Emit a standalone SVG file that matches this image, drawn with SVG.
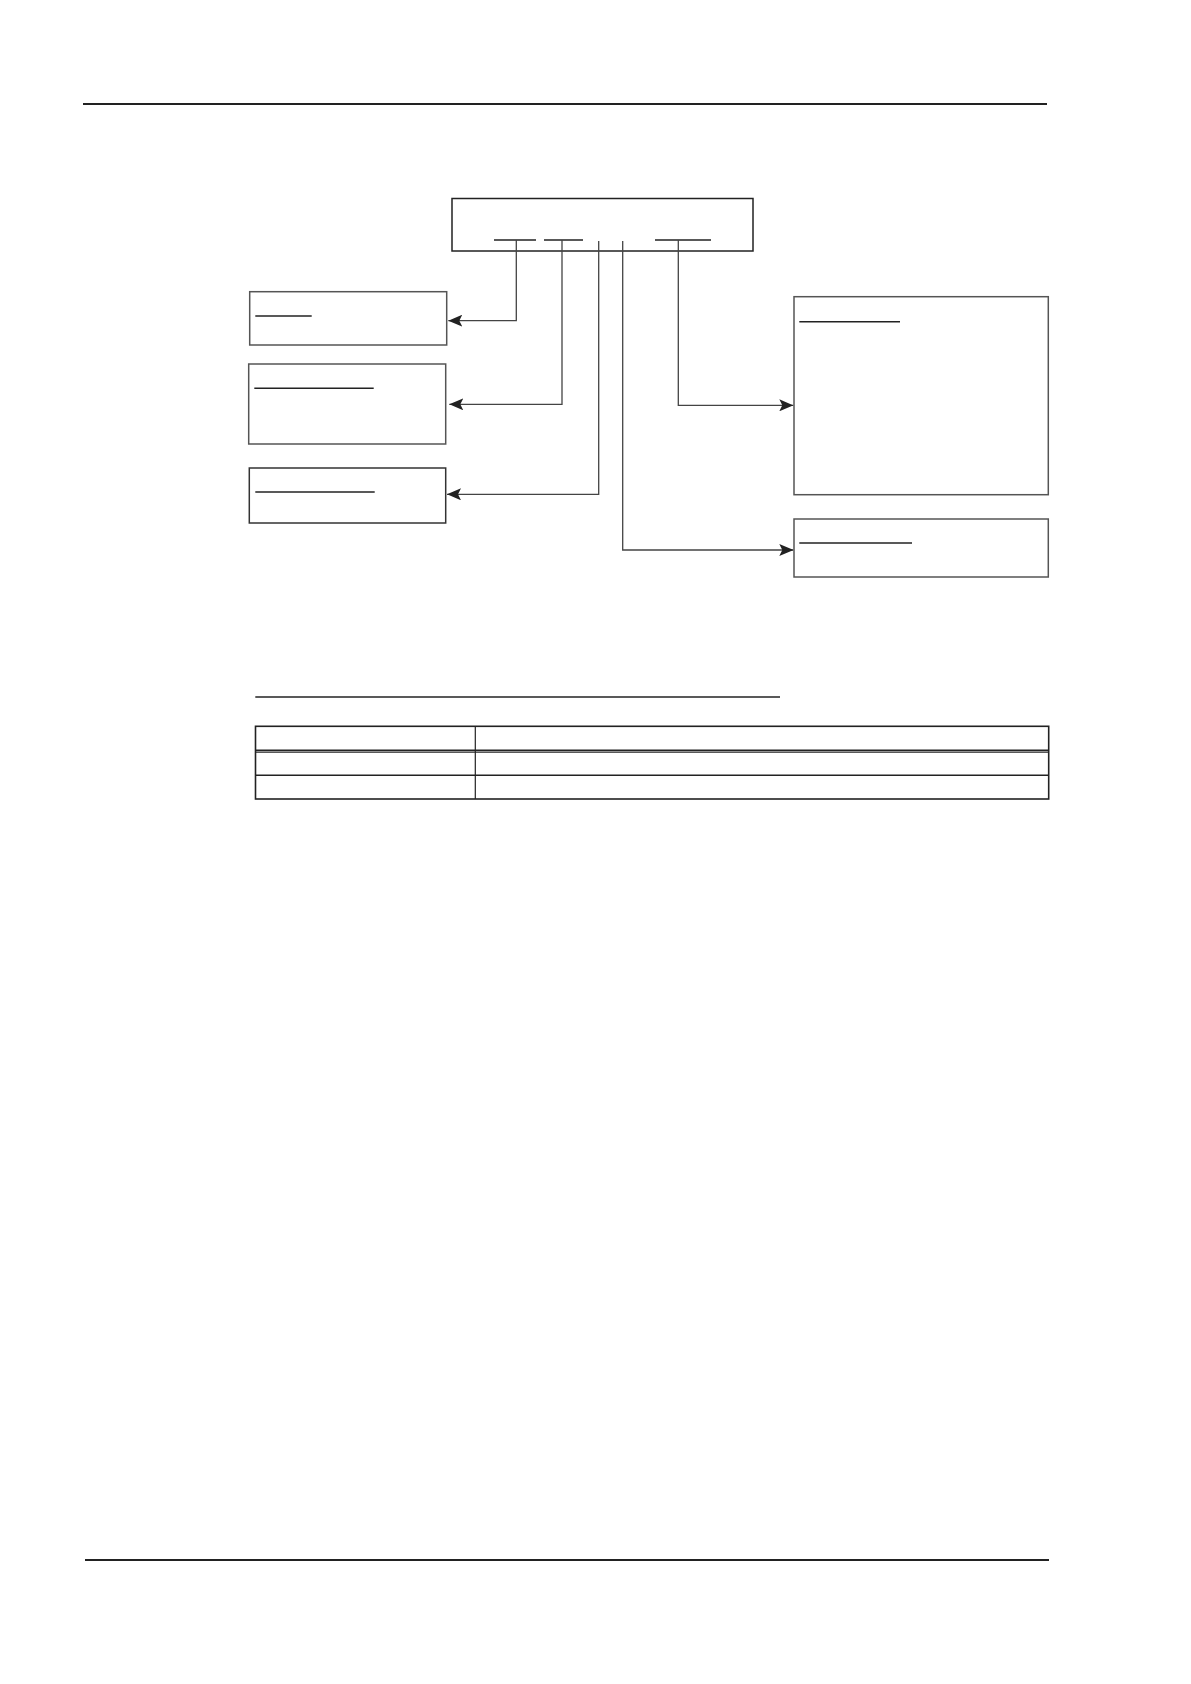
<svg xmlns="http://www.w3.org/2000/svg" width="1191" height="1684" viewBox="0 0 1191 1684">
<style>
.rule{stroke:#222;stroke-width:2.2;fill:none}
.box{fill:#fff;stroke:#555;stroke-width:1.5}
.ul{stroke:#222;stroke-width:1.4;fill:none}
.conn{stroke:#444;stroke-width:1.3;fill:none}
.tbl{stroke:#222;stroke-width:1.6;fill:none}
</style>
<defs>
<marker id="arr" viewBox="0 0 14 12" refX="14" refY="6" markerWidth="14" markerHeight="12" markerUnits="userSpaceOnUse" orient="auto">
<path d="M0,0 L14,6 L0,12 L3,6 Z" fill="#222"/>
</marker>
</defs>
<rect width="1191" height="1684" fill="#fff"/>
<line class="rule" x1="83" y1="104" x2="1047" y2="104"/>
<line class="rule" x1="85" y1="1560" x2="1049" y2="1560"/>

<g id="top">
<rect class="box" x="452" y="198.5" width="301" height="52.5" style="stroke:#222"/>
<line class="ul" x1="494" y1="240" x2="536" y2="240"/>
<line class="ul" x1="544" y1="240" x2="583" y2="240"/>
<line class="ul" x1="655" y1="240" x2="711" y2="240"/>
</g>

<g id="left1">
<rect class="box" x="249.7" y="291.7" width="197" height="53.3"/>
<line class="ul" x1="255.3" y1="316" x2="311.7" y2="316"/>
</g>
<g id="left2">
<rect class="box" x="248.7" y="364" width="197" height="80"/>
<line class="ul" x1="254.3" y1="388.3" x2="373.7" y2="388.3"/>
</g>
<g id="left3">
<rect class="box" x="249.3" y="468" width="196.4" height="55" style="stroke:#333"/>
<line class="ul" x1="255.3" y1="492" x2="374.7" y2="492"/>
</g>
<g id="right1">
<rect class="box" x="794" y="296.7" width="254.3" height="198"/>
<line class="ul" x1="799.3" y1="321.7" x2="900" y2="321.7"/>
</g>
<g id="right2">
<rect class="box" x="794" y="519" width="254.3" height="58"/>
<line class="ul" x1="799.3" y1="543" x2="912" y2="543"/>
</g>

<g id="connectors">
<polyline class="conn" points="516.3,240 516.3,320.7 448.3,320.7" marker-end="url(#arr)"/>
<polyline class="conn" points="562,240 562,404.3 449.3,404.3" marker-end="url(#arr)"/>
<polyline class="conn" points="598.7,241 598.7,494.3 447,494.3" marker-end="url(#arr)"/>
<polyline class="conn" points="622.7,241 622.7,550 793.3,550" marker-end="url(#arr)"/>
<polyline class="conn" points="678.3,240 678.3,405.3 793.3,405.3" marker-end="url(#arr)"/>
</g>

<g id="table">
<line class="ul" x1="255.3" y1="697" x2="780" y2="697"/>
<rect class="tbl" x="255.5" y="726.3" width="793.2" height="72.7"/>
<line class="tbl" x1="255.5" y1="750.2" x2="1048.7" y2="750.2"/>
<line class="tbl" x1="255.5" y1="752.2" x2="1048.7" y2="752.2" style="stroke-width:1.2"/>
<line class="tbl" x1="255.5" y1="775.3" x2="1048.7" y2="775.3"/>
<line class="tbl" x1="475.3" y1="726.3" x2="475.3" y2="799" style="stroke-width:1.2"/>
</g>
</svg>
